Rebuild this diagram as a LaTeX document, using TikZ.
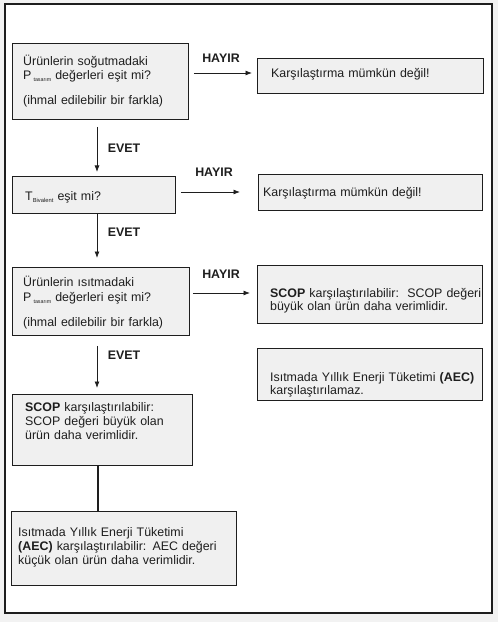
\documentclass[tikz,border=0pt]{standalone}
\usepackage{fontspec}
\setmainfont{Liberation Sans}
\usetikzlibrary{arrows.meta}
\definecolor{boxfill}{HTML}{F0F0F0}
\definecolor{pagebg}{HTML}{F2F2F2}
\definecolor{ink}{HTML}{1E1E1E}
\tikzset{
  box/.style={draw=ink, line width=0.8bp, fill=boxfill, rectangle, inner sep=0pt, anchor=north west},
  txt/.style={anchor=base west, inner sep=0pt, text width=230bp, align=left, font=\fontsize{12.4bp}{14bp}\selectfont, text=ink},
  lbl/.style={inner sep=0pt, font=\fontsize{12.4bp}{14bp}\selectfont\bfseries, text=ink},
  arr/.style={draw=ink, line width=0.8bp, -{Latex[length=6.5bp,width=5bp]}},
  thickline/.style={draw=ink, line width=2.4bp}
}
\newcommand{\subsm}[2]{\raisebox{-2bp}{\fontsize{#1}{#1}\selectfont #2}}
\begin{document}
\begin{tikzpicture}[x=1bp,y=-1bp]
\fill[pagebg] (0,0) rectangle (498,622);
\useasboundingbox (0,0) rectangle (498,622);
\draw[ink, line width=1.4bp, fill=white] (5,4) rectangle (492,613);

% boxes
\node[box, minimum width=176bp, minimum height=76bp] (b1) at (12,43) {};
\node[box, minimum width=226bp, minimum height=35bp] (r1) at (257,58) {};
\node[box, minimum width=163bp, minimum height=37bp] (b2) at (12,176) {};
\node[box, minimum width=224bp, minimum height=36bp] (r2) at (258,174) {};
\node[box, minimum width=177bp, minimum height=68bp] (b3) at (12,267) {};
\node[box, minimum width=225bp, minimum height=58bp] (r3) at (257,265) {};
\node[box, minimum width=225bp, minimum height=52bp] (r4) at (257,348) {};
\node[box, minimum width=180bp, minimum height=71bp] (b4) at (12,394) {};
\node[box, minimum width=225bp, minimum height=74bp] (b5) at (11,511) {};

% texts
\node[txt] (t1) at ([shift={(11,23)}]b1.north west)
  {Ürünlerin soğutmadaki\\ P\,\subsm{5.3bp}{tasarım} değerleri eşit mi?\\[11bp] (ihmal edilebilir bir farkla)};
\node[txt] (tr1) at ([shift={(14,20)}]r1.north west) {Karşılaştırma mümkün değil!};
\node[txt] (t2) at ([shift={(13,24)}]b2.north west) {T\subsm{5.8bp}{Bivalent} eşit mi?};
\node[txt] (tr2) at ([shift={(5,22)}]r2.north west) {Karşılaştırma mümkün değil!};
\node[txt] (t3) at ([shift={(11,19)}]b3.north west)
  {Ürünlerin ısıtmadaki\\[1bp] P\,\subsm{5.3bp}{tasarım} değerleri eşit mi?\\[11bp] (ihmal edilebilir bir farkla)};
\node[txt] (tr3) at ([shift={(13,32)}]r3.north west)
  {\textbf{SCOP} karşılaştırılabilir:\ \ SCOP değeri\\[-1bp] büyük olan ürün daha verimlidir.};
\node[txt] (tr4) at ([shift={(13,33)}]r4.north west)
  {Isıtmada Yıllık Enerji Tüketimi \textbf{(AEC)}\\[-1bp] karşılaştırılamaz.};
\node[txt] (t4) at ([shift={(13,17)}]b4.north west)
  {\textbf{SCOP} karşılaştırılabilir:\\ SCOP değeri büyük olan\\ ürün daha verimlidir.};
\node[txt] (t5) at ([shift={(7,25)}]b5.north west)
  {Isıtmada Yıllık Enerji Tüketimi\\ \textbf{(AEC)} karşılaştırılabilir: AEC değeri\\ küçük olan ürün daha verimlidir.};

% labels
\node[lbl] (h1) at (221,58) {HAYIR};
\node[lbl] (h2) at (214,172) {HAYIR};
\node[lbl] (h3) at (221,274) {HAYIR};
\node[lbl] (e1) at (124,148) {EVET};
\node[lbl] (e2) at (124,232) {EVET};
\node[lbl] (e3) at (124,355) {EVET};

% helper coordinates
\coordinate (y1) at (0,73);
\coordinate (y2) at (0,192);
\coordinate (y3) at (0,293);
\coordinate (vx) at (97,0);
\coordinate (tx) at (98,0);

% connectors
\draw[arr, shorten <=5bp, shorten >=5bp] (b1.east |- y1) -- (r1.west |- y1);
\draw[arr, shorten <=5bp, shorten >=18bp] (b2.east |- y2) -- (r2.west |- y2);
\draw[arr, shorten <=3bp, shorten >=7bp] (b3.east |- y3) -- (r3.west |- y3);
\draw[arr, shorten <=7bp, shorten >=4bp] (b1.south -| vx) -- (b2.north -| vx);
\draw[arr, shorten >=9bp] (b2.south -| vx) -- (b3.north -| vx);
\draw[arr, shorten <=10bp, shorten >=6bp] (b3.south -| vx) -- (b4.north -| vx);
\draw[thickline] (b4.south -| tx) -- (b5.north -| tx);
\end{tikzpicture}
\end{document}
